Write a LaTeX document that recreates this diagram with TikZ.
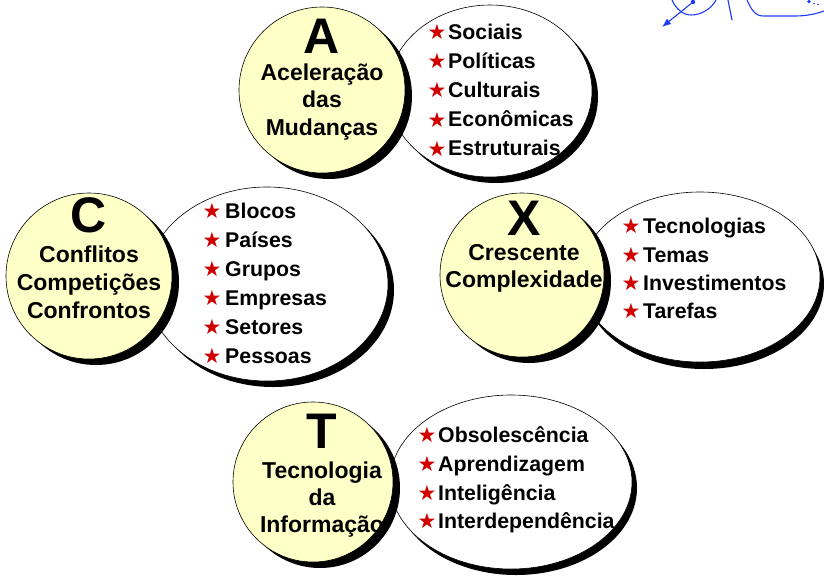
\documentclass[tikz,border=0pt]{standalone}
\usepackage{fontspec}
\setmainfont{Liberation Sans}
\newfontfamily\starglyphs{DejaVu Sans}
\usetikzlibrary{shapes.geometric, arrows.meta}
\definecolor{paleyellow}{HTML}{FFFFC8}
\definecolor{starred}{HTML}{D00000}
\definecolor{inkblue}{HTML}{1E3CF5}
\tikzset{
  hubshade/.style={circle, fill=black, inner sep=0, minimum size=#1},
  hub/.style={circle, draw=black, line width=0.6pt, fill=paleyellow, inner sep=0, minimum size=#1},
  ovalshade/.style 2 args={ellipse, fill=black, inner sep=0, minimum width=#1, minimum height=#2},
  oval/.style 2 args={ellipse, draw=black, line width=0.6pt, fill=white, inner sep=0, minimum width=#1, minimum height=#2},
  bigletter/.style={font=\fontsize{50}{50}\selectfont\bfseries, anchor=base, inner sep=0},
  titleline/.style={font=\fontsize{23}{27}\selectfont\bfseries, anchor=base, inner sep=0},
  item/.style={font=\fontsize{21.3}{24}\selectfont\bfseries, anchor=base west, inner sep=0},
  bullet/.style={font=\fontsize{21}{22}\starglyphs, text=starred, anchor=center, inner sep=0},
  scribble/.style={draw=inkblue, line width=1.1pt, line cap=round, line join=round}
}
\begin{document}
\begin{tikzpicture}[x=1pt,y=-1pt]
\fill[white] (0,0) rectangle (824,576);
\useasboundingbox (0,0) rectangle (824,576);

% ---------- Group A ----------
\node[ovalshade={204pt}{172pt}] (aovs) at (496,97) {};
\node[oval={204pt}{172pt}] (aov) at (490,91) {};
\node[hubshade=166pt] (ahbs) at (329,96) {};
\node[hub=166pt] (ahb) at (322,90) {};
\node[bigletter] (al) at (322,53) {A};
\node[titleline] (at1) at (322,80) {Aceleração};
\node[titleline] (at2) at (322,107) {das};
\node[titleline] (at3) at (322,135) {Mudanças};
\node[bullet] (ab1) at (437,32) {★};
\node[bullet] (ab2) at (437,61.2) {★};
\node[bullet] (ab3) at (437,90.4) {★};
\node[bullet] (ab4) at (437,119.6) {★};
\node[bullet] (ab5) at (437,148.8) {★};
\node[item] (ai1) at (448,39) {Sociais};
\node[item] (ai2) at (448,68.2) {Políticas};
\node[item] (ai3) at (448,97.4) {Culturais};
\node[item] (ai4) at (448,126.6) {Econômicas};
\node[item] (ai5) at (448,155.8) {Estruturais};

% ---------- Group C ----------
\node[ovalshade={242pt}{194pt}] (covs) at (273,290) {};
\node[oval={242pt}{194pt}] (cov) at (267,284) {};
\node[hubshade=166pt] (chbs) at (96,282) {};
\node[hub=166pt] (chb) at (89,276) {};
\node[bigletter] (cl) at (89,232) {C};
\node[titleline] (ct1) at (89,262) {Conflitos};
\node[titleline] (ct2) at (89,290) {Competições};
\node[titleline] (ct3) at (89,318) {Confrontos};
\node[bullet] (cb1) at (212,211) {★};
\node[bullet] (cb2) at (212,240) {★};
\node[bullet] (cb3) at (212,269) {★};
\node[bullet] (cb4) at (212,298) {★};
\node[bullet] (cb5) at (212,327) {★};
\node[bullet] (cb6) at (212,356) {★};
\node[item] (ci1) at (225,218) {Blocos};
\node[item] (ci2) at (225,247) {Países};
\node[item] (ci3) at (225,276) {Grupos};
\node[item] (ci4) at (225,305) {Empresas};
\node[item] (ci5) at (225,334) {Setores};
\node[item] (ci6) at (225,363) {Pessoas};

% ---------- Group X ----------
\node[ovalshade={240pt}{170pt}] (xovs) at (704,284) {};
\node[oval={240pt}{170pt}] (xov) at (700,277) {};
\node[hubshade=164pt] (xhbs) at (529,281) {};
\node[hub=164pt] (xhb) at (522,275) {};
\node[bigletter] (xl) at (524,235) {X};
\node[titleline] (xt1) at (524,260) {Crescente};
\node[titleline] (xt2) at (524,287) {Complexidade};
\node[bullet] (xb1) at (631,226) {★};
\node[bullet] (xb2) at (631,255) {★};
\node[bullet] (xb3) at (631,283) {★};
\node[bullet] (xb4) at (631,311) {★};
\node[item] (xi1) at (643,233) {Tecnologias};
\node[item] (xi2) at (643,262) {Temas};
\node[item] (xi3) at (643,290) {Investimentos};
\node[item] (xi4) at (643,318) {Tarefas};

% ---------- Group T ----------
\node[ovalshade={242pt}{174pt}] (tovs) at (516,488) {};
\node[oval={242pt}{174pt}] (tov) at (511,482) {};
\node[hubshade=160pt] (thbs) at (320,488) {};
\node[hub=160pt] (thb) at (313,482) {};
\node[bigletter] (tl) at (322,448) {T};
\node[titleline] (tt1) at (322,478) {Tecnologia};
\node[titleline] (tt2) at (322,505) {da};
\node[titleline] (tt3) at (322,532) {Informação};
\node[bullet] (tb1) at (427,435) {★};
\node[bullet] (tb2) at (427,464) {★};
\node[bullet] (tb3) at (427,493) {★};
\node[bullet] (tb4) at (427,521) {★};
\node[item] (ti1) at (438,442) {Obsolescência};
\node[item] (ti2) at (438,471) {Aprendizagem};
\node[item] (ti3) at (438,500) {Inteligência};
\node[item] (ti4) at (438,528) {Interdependência};

% ---------- blue handwriting, top right ----------
\draw[scribble] (672,0) .. controls (676,9) and (683,15) .. (691,15)
  .. controls (702,15) and (712,8) .. (716,0);
\coordinate (pen1) at (693,2);
\coordinate (pen2) at (662,27);
\fill[inkblue] (pen1) circle (2.2pt);
\draw[scribble, -{Latex[length=9pt,width=7pt]}] (pen1) -- (pen2);
\draw[scribble] (728,0) -- (732,20);
\draw[scribble] (747,0) .. controls (751,9) and (755,16) .. (763,16)
  -- (795,16) .. controls (806,16) and (816,14) .. (824,11);
\fill[inkblue] (809,1.5) circle (1.8pt);
\fill[inkblue] (814,3.5) circle (0.9pt);
\fill[inkblue] (818,4.5) circle (0.9pt);
\end{tikzpicture}
\end{document}
